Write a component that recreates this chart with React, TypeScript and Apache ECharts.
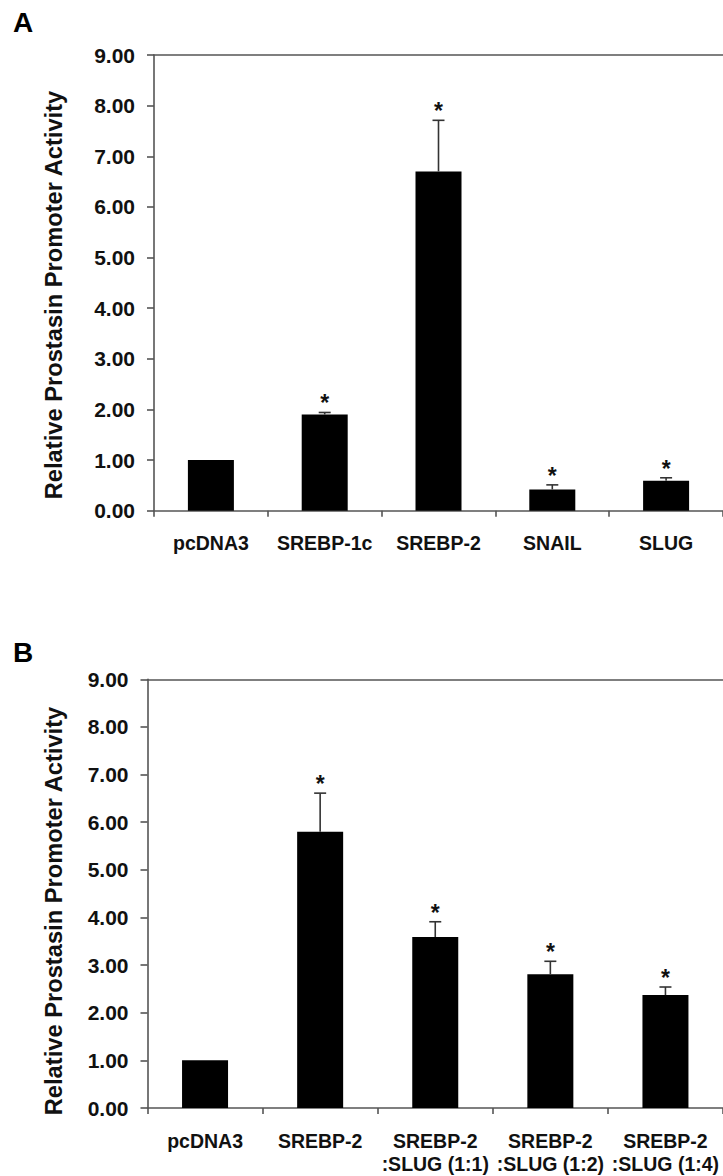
import React, { useEffect, useRef } from "react";
import * as echarts from "echarts";

const categoriesA = ["pcDNA3", "SREBP-1c", "SREBP-2", "SNAIL", "SLUG"];
const valuesA = [1.0, 1.9, 6.7, 0.42, 0.59];
const errorsA = [0, 0.04, 1.01, 0.09, 0.06];
const significantA = [false, true, true, true, true];

const categoriesB = [
  "pcDNA3",
  "SREBP-2",
  "SREBP-2\n:SLUG (1:1)",
  "SREBP-2\n:SLUG (1:2)",
  "SREBP-2\n:SLUG (1:4)",
];
const valuesB = [1.0, 5.8, 3.59, 2.81, 2.37];
const errorsB = [0, 0.81, 0.32, 0.27, 0.17];
const significantB = [false, true, true, true, true];

const yTicks = [0, 1, 2, 3, 4, 5, 6, 7, 8, 9];
const yTitle = "Relative Prostasin Promoter Activity";
const panelLabels = ["A", "B"];

const FONT = "'Liberation Sans', Arial, Helvetica, sans-serif";
const AXIS_COLOR = "#555";
const TEXT_COLOR = "#111";

function buildPanel(
  gridIndex: number,
  cats: string[],
  vals: number[],
  errs: number[],
  sig: boolean[]
) {
  const xBottom = gridIndex * 2;
  const xAxes = [
    {
      type: "category",
      gridIndex,
      data: cats,
      position: "bottom",
      boundaryGap: true,
      axisLine: { show: true, lineStyle: { color: AXIS_COLOR, width: 1.6 } },
      axisTick: { show: true, length: 6, lineStyle: { color: AXIS_COLOR, width: 1.6 } },
      axisLabel: {
        interval: 0,
        margin: 21,
        color: TEXT_COLOR,
        fontFamily: FONT,
        fontWeight: "bold",
        fontSize: 19.5,
        lineHeight: 23.5,
      },
    },
    {
      type: "category",
      gridIndex,
      data: cats,
      position: "top",
      axisLine: { show: true, onZero: false, lineStyle: { color: AXIS_COLOR, width: 1.6 } },
      axisTick: { show: false },
      axisLabel: { show: false },
    },
  ];
  const yAxis = {
    type: "value",
    gridIndex,
    min: yTicks[0],
    max: yTicks[yTicks.length - 1],
    interval: 1,
    axisLine: { show: true, lineStyle: { color: AXIS_COLOR, width: 1.6 } },
    axisTick: { show: true, length: 7, lineStyle: { color: AXIS_COLOR, width: 1.6 } },
    splitLine: { show: false },
    axisLabel: {
      margin: 19,
      color: TEXT_COLOR,
      fontFamily: FONT,
      fontWeight: "bold",
      fontSize: 21,
      formatter: (v: number) => v.toFixed(2),
    },
  };
  const series = [
    {
      type: "bar",
      xAxisIndex: xBottom,
      yAxisIndex: gridIndex,
      data: vals,
      barWidth: 46,
      itemStyle: { color: "#000" },
      silent: true,
    },
    {
      type: "custom",
      xAxisIndex: xBottom,
      yAxisIndex: gridIndex,
      data: vals.map((v, i) => [i, v, v + errs[i], errs[i]]),
      renderItem: (params: any, api: any) => {
        if (api.value(3) <= 0) return null;
        const base = api.coord([api.value(0), api.value(1)]);
        const top = api.coord([api.value(0), api.value(2)]);
        const half = 6;
        return {
          type: "group",
          children: [
            {
              type: "line",
              shape: { x1: base[0], y1: base[1], x2: top[0], y2: top[1] },
              style: { stroke: "#333", lineWidth: 1.6 },
            },
            {
              type: "line",
              shape: { x1: top[0] - half, y1: top[1], x2: top[0] + half, y2: top[1] },
              style: { stroke: "#333", lineWidth: 1.6 },
            },
          ],
        };
      },
      silent: true,
      z: 3,
    },
    {
      type: "custom",
      xAxisIndex: xBottom,
      yAxisIndex: gridIndex,
      data: vals.map((v, i) => [i, v + errs[i], sig[i] ? 1 : 0]),
      renderItem: (params: any, api: any) => {
        if (!api.value(2)) return null;
        const p = api.coord([api.value(0), api.value(1)]);
        return {
          type: "text",
          x: p[0],
          y: p[1] - 9,
          style: {
            text: "*",
            fill: "#111",
            font: `bold 23px ${FONT}`,
            textAlign: "center",
            textVerticalAlign: "middle",
            align: "center",
            verticalAlign: "middle",
          },
        };
      },
      silent: true,
      z: 4,
    },
  ];
  return { xAxes, yAxis, series };
}

export default function App() {
  const ref = useRef<HTMLDivElement>(null);
  useEffect(() => {
    if (!ref.current) return;
    const chart = echarts.init(ref.current, undefined, { renderer: "svg" });
    const a = buildPanel(0, categoriesA, valuesA, errorsA, significantA);
    const b = buildPanel(1, categoriesB, valuesB, errorsB, significantB);
    const titleStyle = {
      text: yTitle,
      fill: TEXT_COLOR,
      font: `bold 23.7px ${FONT}`,
      textAlign: "center",
      textVerticalAlign: "middle",
      align: "center",
      verticalAlign: "middle",
    };
    const option: any = {
      animation: false,
      backgroundColor: "#fff",
      grid: [
        { left: 154, top: 55, width: 573.75, height: 455.7, containLabel: false },
        { left: 147.5, top: 679.3, width: 577.5, height: 432.2, containLabel: false },
      ],
      xAxis: [...a.xAxes, ...b.xAxes],
      yAxis: [a.yAxis, b.yAxis],
      series: [...a.series, ...b.series],
      graphic: [
        {
          type: "text",
          left: 13,
          top: 8,
          style: { text: panelLabels[0], fill: "#000", font: `bold 28px ${FONT}` },
        },
        {
          type: "text",
          left: 13,
          top: 638,
          style: { text: panelLabels[1], fill: "#000", font: `bold 28px ${FONT}` },
        },
        { type: "text", x: 54, y: 295, rotation: Math.PI / 2, style: titleStyle },
        { type: "text", x: 54, y: 911, rotation: Math.PI / 2, style: { ...titleStyle } },
      ],
    };
    chart.setOption(option);
    return () => chart.dispose();
  }, []);
  return (
    <div
      ref={ref}
      style={{
        position: "absolute",
        left: 0,
        top: 0,
        width: 723,
        height: 1176,
        overflow: "hidden",
        background: "#fff",
      }}
    />
  );
}
